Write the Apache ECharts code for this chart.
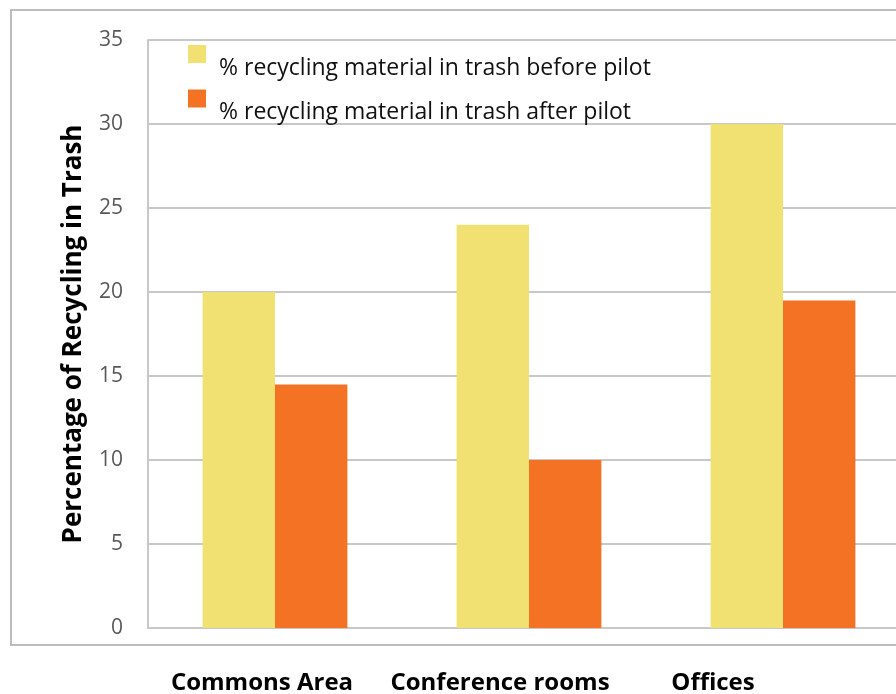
<!DOCTYPE html>
<html>
<head>
<meta charset="utf-8">
<script src="https://cdn.jsdelivr.net/npm/echarts@6/dist/echarts.min.js"></script>
<style>
  html, body { margin: 0; padding: 0; background: #fff; overflow: hidden; }
  /* 图表比窗口略宽，右侧被裁切 */
  #main { width: 930px; height: 694px; }
</style>
</head>
<body>
<div id="main"></div>
<script>
// 数据
const categories = ["Commons Area", "Conference rooms", "Offices"]
const beforePilot = [20, 24, 30]
const afterPilot = [14.5, 10, 19.5]
const seriesNames = [
    "% recycling material in trash before pilot",
    "% recycling material in trash after pilot"
]

// 类别标签的水平中心（版式）
const labelCenters = [262, 500, 713]

const font = "'Open Sans', 'DejaVu Sans', sans-serif"
const main = document.getElementById("main")
const myChart = echarts.init(main)

const option = {
    animation: false,
    color: ['#F1E173', '#F37224'],
    grid: {
        left: 148,
        top: 40,
        width: 762,
        height: 588,
        containLabel: false
    },
    legend: {
        orient: 'vertical',
        left: 183,
        top: 21,
        itemWidth: 18,
        itemHeight: 18,
        itemGap: -9,
        icon: 'rect',
        data: seriesNames,
        // 文字比色块低一些
        formatter: name => '{gap| }\n{t|' + name + '}',
        textStyle: {
            fontFamily: font,
            fontSize: 23,
            color: '#111',
            rich: {
                gap: { fontSize: 10, lineHeight: 28, height: 28 },
                t: { fontFamily: font, fontSize: 23, lineHeight: 28, color: '#111', padding: [0, 0, 0, 8] }
            }
        }
    },
    xAxis: {
        type: 'category',
        data: categories,
        axisLine: { show: true, lineStyle: { color: '#c8c8c8', width: 2 } },
        axisTick: { show: false },
        axisLabel: { show: false }
    },
    yAxis: {
        type: 'value',
        min: 0,
        max: 35,
        interval: 5,
        name: 'Percentage of Recycling in Trash',
        nameLocation: 'middle',
        nameGap: 61,
        nameTextStyle: {
            fontFamily: font,
            fontSize: 26,
            fontWeight: 'bold',
            color: '#000'
        },
        axisLine: { show: true, lineStyle: { color: '#c8c8c8', width: 2 } },
        axisTick: { show: false },
        axisLabel: {
            margin: 25,
            fontFamily: font,
            fontSize: 21,
            color: '#595959'
        },
        splitLine: { lineStyle: { color: '#c8c8c8', width: 2 } }
    },
    series: [
        {
            name: seriesNames[0],
            type: 'bar',
            data: beforePilot,
            barGap: '0%',
            barCategoryGap: '43%'
        },
        {
            name: seriesNames[1],
            type: 'bar',
            data: afterPilot
        }
    ],
    graphic: [
        {
            type: 'rect',
            shape: { x: 11, y: 10, width: 905, height: 635 },
            style: { fill: 'none', stroke: '#bdbdbd', lineWidth: 2 },
            silent: true,
            z: 0
        }
    ].concat(categories.map((c, i) => ({
        type: 'text',
        x: labelCenters[i],
        y: 683,
        style: {
            text: c,
            fontFamily: font,
            fontSize: 24,
            fontWeight: 'bold',
            fill: '#000',
            align: 'center',
            verticalAlign: 'middle'
        }
    })))
}

myChart.setOption(option)
</script>
</body>
</html>
